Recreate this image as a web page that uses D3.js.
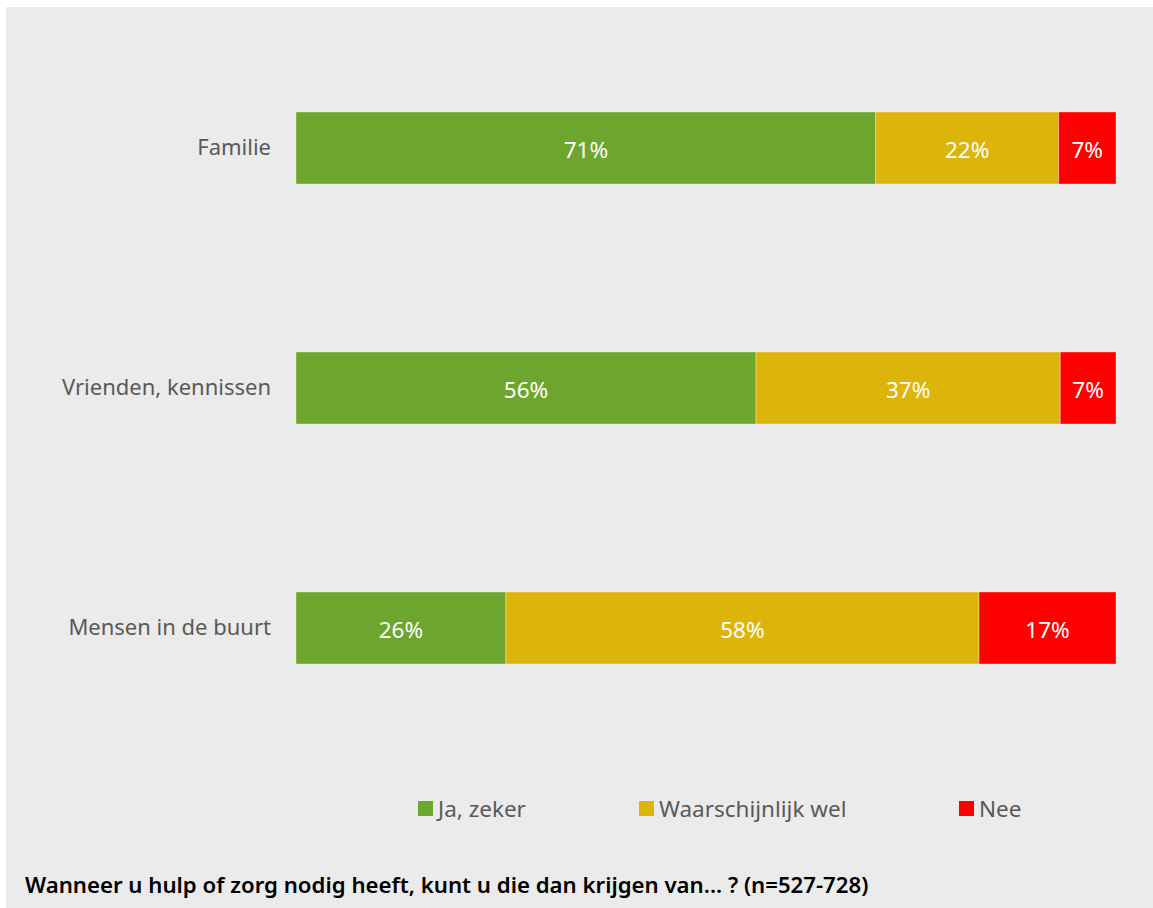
<!DOCTYPE html>
<html>
<head>
<meta charset="utf-8">
<script src="https://cdn.jsdelivr.net/npm/d3@7"></script>
<style>
  html, body { margin: 0; padding: 0; background: #ffffff; }
  svg { display: block; }
  text { font-family: "Noto Sans", "Open Sans", sans-serif; }
</style>
</head>
<body>
<svg id="chart" width="1153" height="908"></svg>
<script>
const categories = ["Familie", "Vrienden, kennissen", "Mensen in de buurt"];
const seriesNames = ["Ja, zeker", "Waarschijnlijk wel", "Nee"];
const jaZeker = [70.7, 56.1, 25.6];
const waarschijnlijkWel = [22.3, 37.1, 57.7];
const nee = [7.0, 6.8, 16.7];
const valueLabels = [["71%", "22%", "7%"], ["56%", "37%", "7%"], ["26%", "58%", "17%"]];
const colors = ["#6ca62e", "#ddb40a", "#ff0000"];
const titleText = "Wanneer u hulp of zorg nodig heeft, kunt u die dan krijgen van... ? (n=527-728)";

const rows = categories.map((c, i) => ({
  cat: c, "Ja, zeker": jaZeker[i], "Waarschijnlijk wel": waarschijnlijkWel[i], "Nee": nee[i]
}));
const stacked = d3.stack().keys(seriesNames)(rows);

const svg = d3.select("#chart");
svg.append("rect").attr("x", 6).attr("y", 7).attr("width", 1147).attr("height", 901).attr("fill", "#ebebeb");

const x = d3.scaleLinear().domain([0, 100]).range([296, 1116]);
const y = d3.scaleBand().domain(categories).range([28, 748]).paddingInner(0.7).paddingOuter(0.35);

const g = svg.append("g");
stacked.forEach((s, si) => {
  g.selectAll(null).data(s).enter().append("rect")
    .attr("x", d => x(d[0]))
    .attr("y", d => y(d.data.cat))
    .attr("width", d => x(d[1]) - x(d[0]))
    .attr("height", y.bandwidth())
    .attr("fill", colors[si])
    .attr("stroke", "rgba(255,255,255,0.35)")
    .attr("stroke-width", 1);
  g.selectAll(null).data(s).enter().append("text")
    .attr("x", d => (x(d[0]) + x(d[1])) / 2)
    .attr("y", d => y(d.data.cat) + y.bandwidth() / 2 + 2)
    .attr("dy", "0.35em")
    .attr("text-anchor", "middle")
    .attr("fill", "#ffffff")
    .attr("font-size", 22.5)
    .text((d, i) => valueLabels[i][si]);
});

// category axis
const axis = d3.axisLeft(y).tickSize(0).tickPadding(25);
const ag = svg.append("g").attr("transform", "translate(296,0)").call(axis);
ag.select(".domain").remove();
ag.selectAll("text").attr("font-size", 22).attr("fill", "#595959")
  .attr("font-family", '"Noto Sans", "Open Sans", sans-serif');

// legend
const legendX = [418, 639, 959];
const lg = svg.append("g");
seriesNames.forEach((n, i) => {
  lg.append("rect").attr("x", legendX[i]).attr("y", 801).attr("width", 15).attr("height", 15).attr("fill", colors[i]);
  lg.append("text").attr("x", legendX[i] + 20).attr("y", 809).attr("dy", "0.35em")
    .attr("font-size", 22.5).attr("fill", "#595959").text(n);
});

// title
const t = svg.append("text").attr("x", 25).attr("y", 893)
  .attr("font-size", 19).attr("font-weight", 600).attr("fill", "#000000").text(titleText);
const w = t.node().getComputedTextLength();
t.attr("font-size", 19 * 844 / w);
</script>
</body>
</html>
